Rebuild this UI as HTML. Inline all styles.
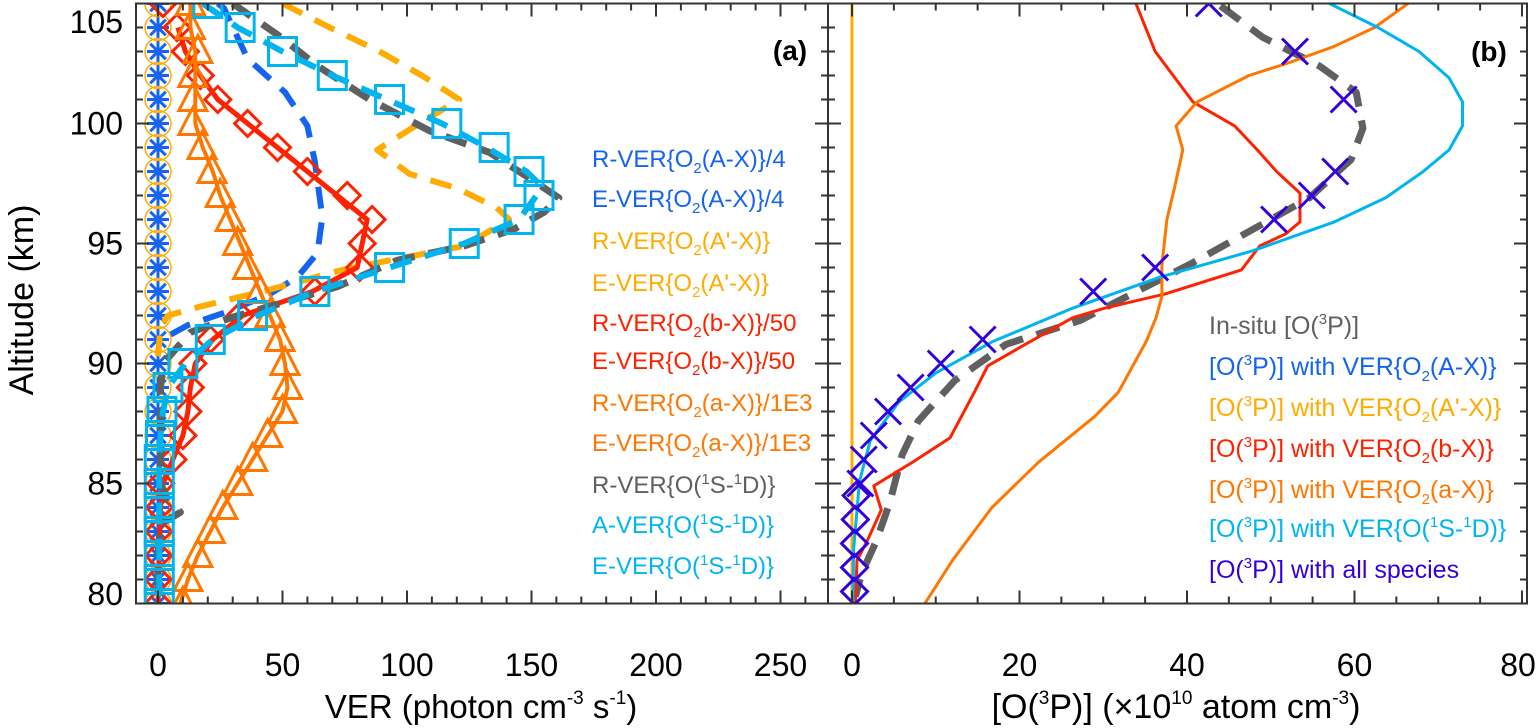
<!DOCTYPE html>
<html><head><meta charset="utf-8">
<style>
html,body{margin:0;padding:0;background:#fff;}
svg{display:block;font-family:"Liberation Sans",Arial,sans-serif;}
</style></head>
<body>
<svg id="chart" width="1540" height="728" viewBox="0 0 1540 728" xmlns="http://www.w3.org/2000/svg">
<g id="plotA"></g>
<g id="plotB"></g>
<g id="axes"></g>

<text x="24" y="300" font-size="34" text-anchor="middle" dominant-baseline="middle" transform="rotate(-90 24 300)">Altitude (km)</text>
<text x="481" y="718" font-size="33" text-anchor="middle">VER (photon cm<tspan font-size="19" dy="-14">-3</tspan><tspan dy="14"> s</tspan><tspan font-size="19" dy="-14">-1</tspan><tspan dy="14">)</tspan></text>
<text x="1176" y="718" font-size="34" text-anchor="middle">[O(<tspan font-size="19" dy="-14">3</tspan><tspan dy="14">P)] (×10</tspan><tspan font-size="19" dy="-14">10</tspan><tspan dy="14"> atom cm</tspan><tspan font-size="19" dy="-14">-3</tspan><tspan dy="14">)</tspan></text>

<text x="790" y="60" font-size="28" font-weight="bold" text-anchor="middle">(a)</text>
<text x="1489" y="61" font-size="28" font-weight="bold" text-anchor="middle">(b)</text>

<g font-size="24">
<text x="592" y="167" fill="#1464f0">R-VER{O<tspan font-size="15" dy="6">2</tspan><tspan dy="-6">(A-X)}/4</tspan></text>
<text x="592" y="207" fill="#1464f0">E-VER{O<tspan font-size="15" dy="6">2</tspan><tspan dy="-6">(A-X)}/4</tspan></text>
<text x="592" y="249" fill="#ffab00">R-VER{O<tspan font-size="15" dy="6">2</tspan><tspan dy="-6">(A'-X)}</tspan></text>
<text x="592" y="291" fill="#ffab00">E-VER{O<tspan font-size="15" dy="6">2</tspan><tspan dy="-6">(A'-X)}</tspan></text>
<text x="592" y="331" fill="#ff2200">R-VER{O<tspan font-size="15" dy="6">2</tspan><tspan dy="-6">(b-X)}/50</tspan></text>
<text x="592" y="369" fill="#ff2200">E-VER{O<tspan font-size="15" dy="6">2</tspan><tspan dy="-6">(b-X)}/50</tspan></text>
<text x="592" y="411" fill="#ff7700">R-VER{O<tspan font-size="15" dy="6">2</tspan><tspan dy="-6">(a-X)}/1E3</tspan></text>
<text x="592" y="451" fill="#ff7700">E-VER{O<tspan font-size="15" dy="6">2</tspan><tspan dy="-6">(a-X)}/1E3</tspan></text>
<text x="592" y="493" fill="#606060">R-VER{O(<tspan font-size="15" dy="-9">1</tspan><tspan dy="9">S-</tspan><tspan font-size="15" dy="-9">1</tspan><tspan dy="9">D)}</tspan></text>
<text x="592" y="533" fill="#00b4f0">A-VER{O(<tspan font-size="15" dy="-9">1</tspan><tspan dy="9">S-</tspan><tspan font-size="15" dy="-9">1</tspan><tspan dy="9">D)}</tspan></text>
<text x="592" y="574" fill="#00b4f0">E-VER{O(<tspan font-size="15" dy="-9">1</tspan><tspan dy="9">S-</tspan><tspan font-size="15" dy="-9">1</tspan><tspan dy="9">D)}</tspan></text>
</g>

<g font-size="25">
<text x="1209" y="334" fill="#606060">In-situ [O(<tspan font-size="15" dy="-10">3</tspan><tspan dy="10">P)]</tspan></text>
<text x="1209" y="375" fill="#1464f0">[O(<tspan font-size="15" dy="-10">3</tspan><tspan dy="10">P)] with VER{O</tspan><tspan font-size="15" dy="6">2</tspan><tspan dy="-6">(A-X)}</tspan></text>
<text x="1209" y="416" fill="#ffab00">[O(<tspan font-size="15" dy="-10">3</tspan><tspan dy="10">P)] with VER{O</tspan><tspan font-size="15" dy="6">2</tspan><tspan dy="-6">(A'-X)}</tspan></text>
<text x="1209" y="457" fill="#ff2200">[O(<tspan font-size="15" dy="-10">3</tspan><tspan dy="10">P)] with VER{O</tspan><tspan font-size="15" dy="6">2</tspan><tspan dy="-6">(b-X)}</tspan></text>
<text x="1209" y="498" fill="#ff7700">[O(<tspan font-size="15" dy="-10">3</tspan><tspan dy="10">P)] with VER{O</tspan><tspan font-size="15" dy="6">2</tspan><tspan dy="-6">(a-X)}</tspan></text>
<text x="1209" y="537" fill="#00b4f0">[O(<tspan font-size="15" dy="-10">3</tspan><tspan dy="10">P)] with VER{O(</tspan><tspan font-size="15" dy="-10">1</tspan><tspan dy="10">S-</tspan><tspan font-size="15" dy="-10">1</tspan><tspan dy="10">D)}</tspan></text>
<text x="1209" y="578" fill="#3300dd">[O(<tspan font-size="15" dy="-10">3</tspan><tspan dy="10">P)] with all species</tspan></text>
</g>
</svg>
<script>
// ---------- data: panel (a) ----------
const altKm = [105,104,103,102,101,100,99,98,97,96,95,94,93,92,91,90,89,88,87,86,85,84,83,82,81,80];
const rAX = [0,0,0,0,0,0,0,0,0,0,0,0,0,0,0,0,0,0,0,0,0,0,0,0,0,0];
const rApX = [0,0,0,0,0,0,0,0,0,0,0,0,0,0,0,0,0,0,0,0,0,0,0,0,0,0];
const rbX = [2,7.6,11,17,24,36,48,60,76,86,82,81,63,33,21,14,13,12,10,6,1,0.5,0.3,0.2,0,0];
const raX = [13,13,16,14,14,14,17.7,21.7,25,29,32,36,41,45,49,51,52,50,44,38,32,26,21,16,12,10];
const aO1S = [20,33,50,70,93,116,135,149,153,145,123,93,63,38,21,10,4,1.6,1,0.5,0.5,0.5,0.5,0.5,0.5,0.5];

const eAXAlt = [105,104.8,102.7,101.3,99.9,98.4,96.1,94.6,93.6,92.9,92.2,91.6,91.2];
const eAXVal = [24,26.5,36,51,60,63,66,64,56,45,29,12,5];
const eApXAlt = [105,104,103,102,101,100,98.9,97.9,97.3,96.5,96.0,94.9,94.3,93.9,93.0,92.4,92.0,91.5,90.3];
const eApXVal = [50,69,89,106,121,105,88,101,120,136,141,123,93,74,42,18,4,1,0];
const ebXAlt = [104,103,102,101,100,99,98,97,96,95,94.5,94,93,92,91,90,89,88,87,86,85,84,80];
const ebXVal = [8,11,17,24,36,48,60,72,84,82,81,80,62,34,22,15,13,12,10,6,2,1,0];
const eaXVal = [13,13,15,15,15,15,18,22,25,29,33,37,41,45,49,51,52,50,44,38,32,26,21,16,12,9];
const rO1SAlt = [105,103.7,102.4,101,99.7,98.8,97.6,96.9,96.3,95.6,94.9,94.3,93.2,92.5,91.9,91.3,90,89,88,87,86,85,84.3,83.8,83.3,82,81,80];
const rO1SVal = [30,48,64,85,109,133,151,161,155,143,123,96,72,49,29,13,2,1,1,1,1,1,4,9,1,0,0,0];
const eO1SAlt = [105,104,103,102,101,100,99,98,97.5,97,96,95,94,93,92,91,90,89,88,87,86,80];
const eO1SVal = [18,32,50,70,92,114,132,148,153,152,145,123,93,63,40,22,11,4,2,1,0.5,0.5];

// ---------- data: panel (b) ----------
const inSituAlt = [104.9,103.6,102.4,101.3,99.8,98.5,96.9,95.5,94.2,93.2,91.8,90.8,89.3,87.6,86.2,84.2,82.6,81.3,80.3];
const inSituVal = [44,49,55.8,60.2,61,59.6,54.6,47.4,40.7,35.1,27.3,18.4,12.3,7.9,6,4.5,2.9,1.2,0.4];
const bXAlt = [105,103,100.9,99.9,98.9,98,97.1,95.9,95.4,94.9,93.9,92.9,92.3,91.9,90.8,89.9,88.8,86.9,85.9,84.9,83.9,82.6,81.8,80];
const bXVal = [33.9,36.2,40.7,45.7,48.4,50.7,53.5,53.5,51.8,48.7,46.5,37.4,30.1,26.3,20.7,16.2,14.6,11.7,7.3,2.6,3.5,1.8,0.6,0.4];
const aXAlt = [105,104,103.2,102.5,102,100.9,99.9,98.9,97.3,96,94.1,92.8,91.9,90.9,88.8,87.8,85.9,84,81.8,80];
const aXVal = [66.4,62.4,57.5,51.9,47.4,41.2,38.7,39.5,38.5,37.6,37,37,36.3,35.1,31.8,29,22.3,16.7,12,8.7];
const o1sAlt = [105,104,103,101.9,100.9,99.9,98.9,98,96.9,95.9,94.7,93.6,92.3,90.9,89.6,88.4,86.8,85.1,82.3,80];
const o1sVal = [57,62.8,67.7,71.3,72.9,72.9,71.3,68.2,63.7,57.6,47.9,36.8,26.3,16.7,10,5.6,2.2,0.9,0.2,0.1];
const apXAlt = [105,80];
const apXVal = [0,0];
const allXAlt = [105,103,101,98,97,96,94,93,91,90,89,88,87,86,85];
const allXVal = [42.6,52.9,58.7,57.7,54.9,50.4,36.2,28.8,15.6,10.6,7,4.3,2.6,1.4,1];
const allDAlt = [84.5,83.5,82.5,81.5,80.5];
const allDVal = [0.5,0.4,0.3,0.3,0.3];

const xTicksA = [0,50,100,150,200,250];
const xTicksB = [0,20,40,60,80];
const yTicks = [80,85,90,95,100,105];

// ---------- scales ----------
const NS='http://www.w3.org/2000/svg';
const A = {x0:136, x1:828, vmin:-8.835, vmax:269.08};
const B = {x0:828, x1:1527, vmin:-2.866, vmax:80.6};
const Y = {y0:3.5, y1:603.5, amin:80, amax:105};
function sxA(v){return A.x0+(v-A.vmin)/(A.vmax-A.vmin)*(A.x1-A.x0);}
function sxB(v){return B.x0+(v-B.vmin)/(B.vmax-B.vmin)*(B.x1-B.x0);}
function sy(a){return Y.y1-(a-Y.amin)/(Y.amax-Y.amin)*(Y.y1-Y.y0);}

function mk(tag, attrs, parent){
  const e=document.createElementNS(NS,tag);
  for(const k in attrs) e.setAttribute(k,attrs[k]);
  parent.appendChild(e); return e;
}
const gA=document.getElementById('plotA'), gB=document.getElementById('plotB'), gAx=document.getElementById('axes');

const defs=mk('defs',{},document.getElementById('chart'));
const cA=mk('clipPath',{id:'clipA'},defs); mk('rect',{x:A.x0,y:Y.y0,width:A.x1-A.x0,height:Y.y1-Y.y0},cA);
const cB=mk('clipPath',{id:'clipB'},defs); mk('rect',{x:B.x0,y:Y.y0,width:B.x1-B.x0,height:Y.y1-Y.y0},cB);
gA.setAttribute('clip-path','url(#clipA)');
gB.setAttribute('clip-path','url(#clipB)');

function line(g, sx, alts, vals, color, w, dash, name){
  const pts=alts.map((a,i)=>sx(vals[i]).toFixed(1)+','+sy(a).toFixed(1)).join(' ');
  const p=mk('polyline',{points:pts,fill:'none',stroke:color,'stroke-width':w,'stroke-linejoin':'round'},g);
  if(dash) p.setAttribute('stroke-dasharray',dash);
  
  
  return p;
}
function markers(g, sx, alts, vals, shape, color, name){
  const grp=mk('g',{fill:'none',stroke:color,'stroke-width':3},g);
  
  
  alts.forEach((a,i)=>{
    const x=sx(vals[i]), y=sy(a);
    let e;
    if(shape==='square') e=mk('rect',{x:x-14,y:y-14,width:28,height:28},grp);
    else if(shape==='diamond') e=mk('polygon',{points:`${x},${y-13} ${x+13},${y} ${x},${y+13} ${x-13},${y}`},grp);
    else if(shape==='triangle') e=mk('polygon',{points:`${x},${y-16} ${x+14},${y+11} ${x-14},${y+11}`},grp);
    else if(shape==='circle') e=mk('circle',{cx:x,cy:y,r:13,'stroke-width':1.5},grp);
    else if(shape==='x') e=mk('path',{d:`M${x-13},${y-13}L${x+13},${y+13}M${x-13},${y+13}L${x+13},${y-13}`},grp);
    else if(shape==='asterisk'){
      let d='';
      for(let k=0;k<4;k++){const t=k*Math.PI/4, dx=11*Math.cos(t), dy=11*Math.sin(t); d+=`M${x-dx},${y-dy}L${x+dx},${y+dy}`;}
      e=mk('path',{d:d},grp);
    }
    
    
  });
}

// ---------- panel (a) series ----------
markers(gA, sxA, altKm, rAX, 'asterisk', '#1464f0', 'r-ver-a-x-markers');
line(gA, sxA, eAXAlt, eAXVal, '#1464f0', 6, '22 14', 'e-ver-a-x-line');
markers(gA, sxA, altKm, rApX, 'circle', '#ffab00', 'r-ver-ap-x-markers');
line(gA, sxA, eApXAlt, eApXVal, '#ffab00', 6, '22 14', 'e-ver-ap-x-line');
markers(gA, sxA, altKm, rbX, 'diamond', '#ff2200', 'r-ver-b-x-markers');
line(gA, sxA, ebXAlt, ebXVal, '#ff2200', 5, null, 'e-ver-b-x-line');
markers(gA, sxA, altKm, raX, 'triangle', '#ff7700', 'r-ver-a-x-singlet-markers');
line(gA, sxA, altKm, eaXVal, '#ff7700', 4, null, 'e-ver-a-x-singlet-line');
line(gA, sxA, rO1SAlt, rO1SVal, '#606060', 7, '22 14', 'r-ver-o1s-line');
markers(gA, sxA, altKm, aO1S, 'square', '#00b4f0', 'a-ver-o1s-markers');
line(gA, sxA, eO1SAlt, eO1SVal, '#00b4f0', 6, '22 14', 'e-ver-o1s-line');

// ---------- panel (b) series ----------
line(gB, sxB, apXAlt, apXVal, '#ffab00', 3, null, 'o3p-ap-x-line');
line(gB, sxB, inSituAlt, inSituVal, '#606060', 7, '24 14', 'in-situ-line');
line(gB, sxB, bXAlt, bXVal, '#ff2200', 3, null, 'o3p-b-x-line');
line(gB, sxB, aXAlt, aXVal, '#ff7700', 3, null, 'o3p-a-x-singlet-line');
line(gB, sxB, o1sAlt, o1sVal, '#00b4f0', 3, null, 'o3p-o1s-line');
markers(gB, sxB, allXAlt, allXVal, 'x', '#3300dd', 'o3p-all-x-markers');
markers(gB, sxB, allDAlt, allDVal, 'diamond', '#3300dd', 'o3p-all-diamond-markers');

// ---------- axes ----------
function frame(x0,x1,name){
  const r=mk('rect',{x:x0,y:Y.y0,width:x1-x0,height:Y.y1-Y.y0,fill:'none',stroke:'#333','stroke-width':2},gAx);
  
  
}
frame(A.x0,A.x1,'panel-a-frame');
frame(B.x0,B.x1,'panel-b-frame');
function tk(x1,y1,x2,y2){mk('line',{x1:x1,y1:y1,x2:x2,y2:y2,stroke:'#333','stroke-width':2},gAx);}
for(let a=80;a<=105;a++){
  const y=sy(a), L=(a%5===0)?13:7;
  [[A.x0,A.x1],[B.x0,B.x1]].forEach(([l,r])=>{tk(l,y,l+L,y);tk(r,y,r-L,y);});
}
for(let v=0;v<=260;v+=10){const x=sxA(v),L=(v%50===0)?13:7;tk(x,Y.y1,x,Y.y1-L);tk(x,Y.y0,x,Y.y0+L);}
for(let v=0;v<=80;v+=5){const x=sxB(v),L=(v%20===0)?13:7;if(x>B.x1)continue;tk(x,Y.y1,x,Y.y1-L);tk(x,Y.y0,x,Y.y0+L);}

yTicks.forEach(a=>{
  const y=Math.min(Math.max(sy(a),22),594);
  const t=mk('text',{x:123,y:y+11,'font-size':32,'text-anchor':'end'},gAx);
  t.textContent=a;
  
  
});
xTicksA.forEach(v=>{
  const t=mk('text',{x:sxA(v),y:676,'font-size':32,'text-anchor':'middle'},gAx);
  t.textContent=v;
  
  
});
xTicksB.forEach(v=>{
  const t=mk('text',{x:Math.min(sxB(v),1518),y:676,'font-size':32,'text-anchor':'middle'},gAx);
  t.textContent=v;
  
  
});
</script>
</body></html>
